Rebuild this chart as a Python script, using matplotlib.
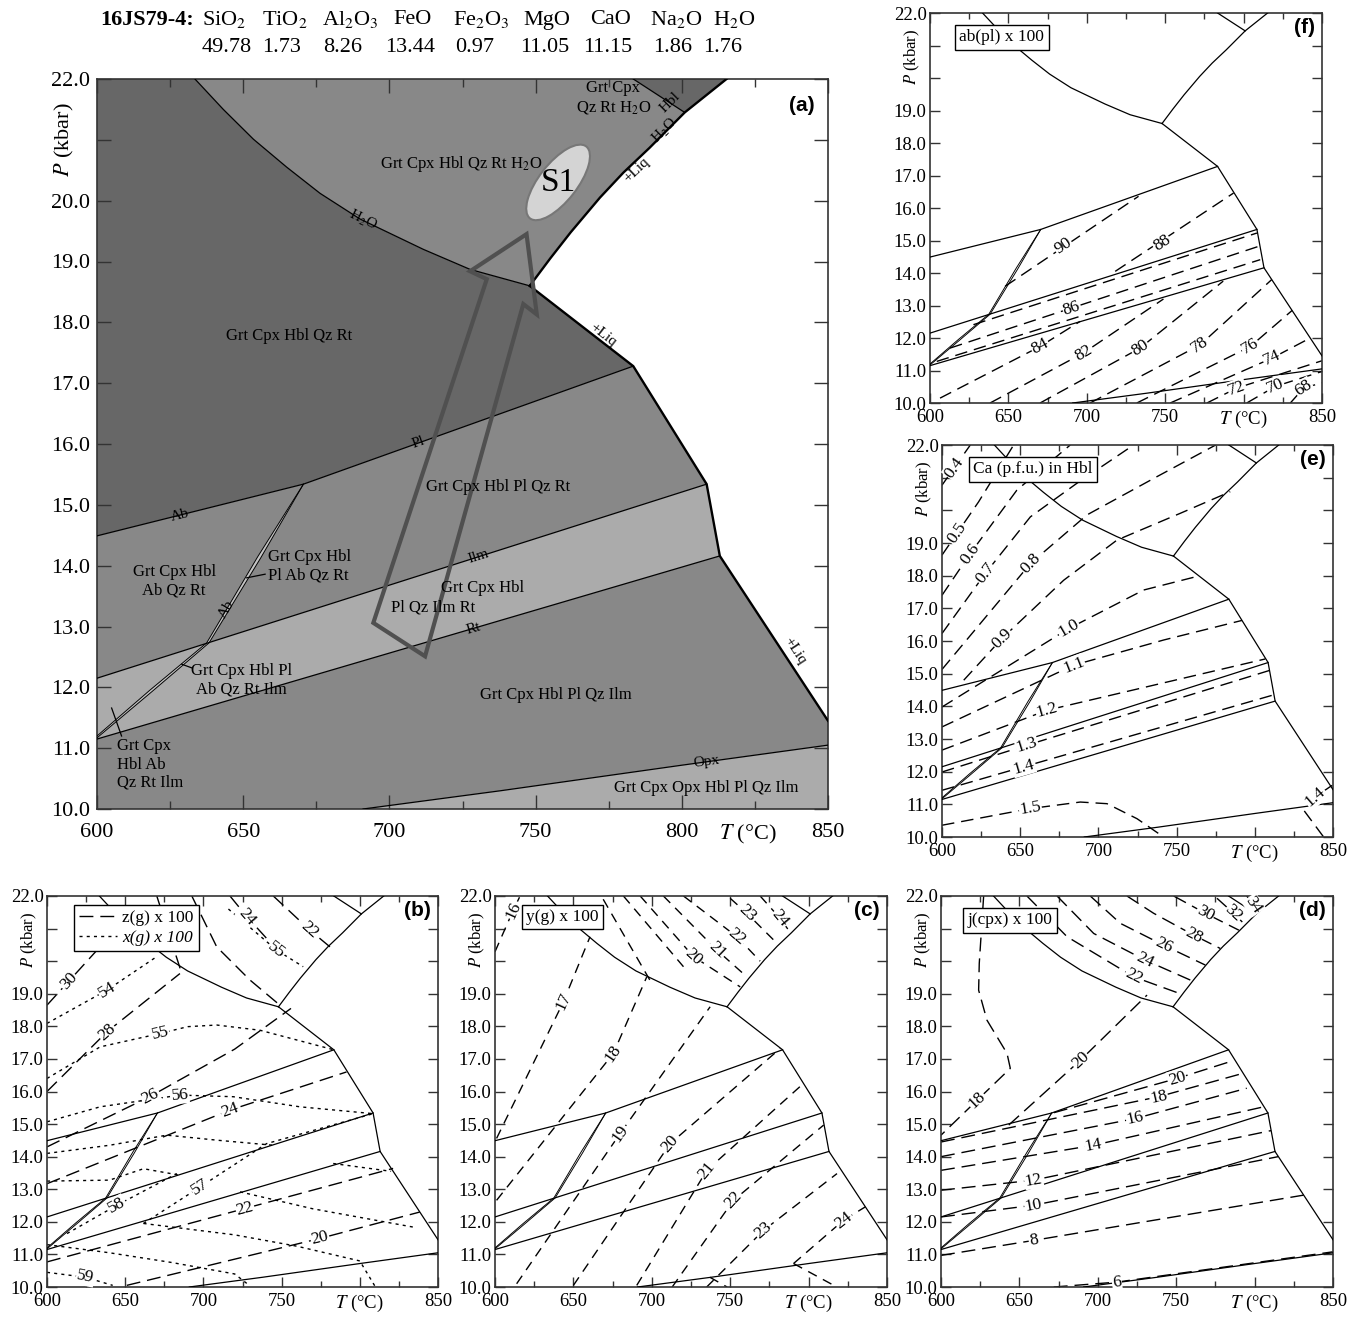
import numpy as np
import matplotlib
matplotlib.use("Agg")
import matplotlib.pyplot as plt
from matplotlib.patches import Polygon, Ellipse
from matplotlib.lines import Line2D

plt.rcParams['font.family'] = ['Liberation Serif', 'DejaVu Serif']
plt.rcParams['mathtext.fontset'] = 'stix'

W, H = 1357, 1327

# ------------------------------------------------------------
# bulk composition (header)
# ------------------------------------------------------------
SAMPLE = '16JS79-4:'
OXIDES = ['SiO$_2$', 'TiO$_2$', 'Al$_2$O$_3$', 'FeO', 'Fe$_2$O$_3$', 'MgO', 'CaO', 'Na$_2$O', 'H$_2$O']
WT = ['49.78', '1.73', '8.26', '13.44', '0.97', '11.05', '11.15', '1.86', '1.76']
OX_X = [202, 262, 322, 393, 453, 523, 590, 650, 713]
WT_X = [202, 262, 323, 385, 455, 520, 583, 653, 703]

# ------------------------------------------------------------
# phase boundaries (T degC, P kbar)
# ------------------------------------------------------------
H2O_CURVE = [(633.5, 22.0), (643.2, 21.5), (653.5, 21.01), (664.9, 20.55), (676.3, 20.12),
             (689.9, 19.7), (711.6, 19.2), (727.6, 18.87), (748.0, 18.6)]
LIQ_UP = [(748.0, 18.6), (755.0, 19.05), (762.0, 19.48), (772.0, 20.05), (780.0, 20.46),
          (789.0, 20.87), (801.0, 21.45), (815.3, 22.0)]
HBL_OUT = [(783.4, 22.0), (801.0, 21.45)]
SOLIDUS = [(748.0, 18.6), (783.4, 17.28), (808.5, 15.34), (813.0, 14.16), (850.0, 11.45)]
PL_LINE = [(600.0, 14.49), (670.6, 15.34), (783.4, 17.28)]
ILM_LINE = [(600.0, 12.15), (808.5, 15.34)]
RT_LINE = [(600.0, 11.15), (813.0, 14.16)]
OPX_LINE = [(691.0, 10.0), (738.0, 10.3), (800.0, 10.72), (850.0, 11.05)]
AB_A = [(600.0, 11.2), (618.0, 11.95), (637.5, 12.73), (655.0, 14.15), (670.6, 15.34)]
AB_B = [(600.0, 11.17), (618.8, 11.93), (638.3, 12.73), (655.9, 14.12), (670.6, 15.34)]

# P-T path and peak ellipse
PT_PATH = [(694.5, 13.06), (733.3, 18.71), (727.6, 18.84), (746.9, 19.45),
           (750.4, 18.13), (745.8, 18.30), (712.2, 12.51)]
S1_CENTER = (757.7, 20.3)

A_FIELDS = [
    ('Grt Cpx Hbl Qz Rt H$_2$O', 724.7, 20.6, 'center'),
    ('Grt Cpx Hbl Qz Rt', 665.7, 17.78, 'center'),
    ('Grt Cpx\nQz Rt H$_2$O', 776.6, 21.69, 'center'),
    ('Grt Cpx Hbl Pl Qz Rt', 737.2, 15.29, 'center'),
    ('Grt Cpx Hbl\nAb Qz Rt', 626.4, 13.75, 'center'),
    ('Grt Cpx Hbl\nPl Ab Qz Rt', 658.6, 13.99, 'left'),
    ('Grt Cpx Hbl', 731.8, 13.64, 'center'),
    ('Pl Qz Ilm Rt', 715.0, 13.31, 'center'),
    ('Grt Cpx Hbl Pl\nAb Qz Rt Ilm', 649.5, 12.12, 'center'),
    ('Grt Cpx\nHbl Ab\nQz Rt Ilm', 606.7, 10.73, 'left'),
    ('Grt Cpx Hbl Pl Qz Ilm', 757.0, 11.87, 'center'),
    ('Grt Cpx Opx Hbl Pl Qz Ilm', 808.2, 10.35, 'center'),
]
A_LEADERS = [[(651.2, 13.8), (657.5, 13.86)],
             [(629.0, 12.38), (632.4, 12.32)],
             [(605.0, 11.66), (608.4, 11.2)]]
A_TAGS = [
    ('H$_2$O', 691.0, 19.68, H2O_CURVE),
    ('+Liq', 784.6, 20.5, LIQ_UP),
    ('H$_2$O', 794.2, 21.15, LIQ_UP),
    ('Hbl', 796.0, 21.61, LIQ_UP),
    ('+Liq', 773.2, 17.8, SOLIDUS),
    ('+Liq', 838.7, 12.6, SOLIDUS),
    ('Pl', 709.9, 16.02, PL_LINE),
    ('Ab', 628.4, 14.83, PL_LINE),
    ('Ilm', 730.4, 14.15, ILM_LINE),
    ('Rt', 728.7, 12.97, RT_LINE),
    ('Ab', 644.3, 13.28, AB_A),
    ('Opx', 808.5, 10.78, OPX_LINE),
]

# ------------------------------------------------------------
# isopleths: (label, points, label position)
# ------------------------------------------------------------
F_ISO = [
    ('90', [(647.9, 13.59), (733.0, 16.36)], (685.1, 14.82)),
    ('88', [(718.1, 14.05), (793.6, 16.46)], (747.9, 14.92)),
    ('86', [(612.8, 11.69), (809.6, 14.82)], (690.4, 12.92)),
    ('', [(627.7, 12.41), (808.5, 15.23)], None),
    ('', [(604.3, 11.28), (810.6, 14.41)], None),
    ('84', [(606.4, 10.15), (670.2, 11.74), (695.7, 12.51)], (670.2, 11.74)),
    ('82', [(638.3, 10.0), (697.9, 11.54), (748.9, 13.2)], (697.9, 11.54)),
    ('80', [(670.2, 10.0), (734.0, 11.69), (787.0, 13.75)], (734.0, 11.69)),
    ('78', [(702.1, 10.0), (772.3, 11.79), (818.0, 13.8)], (772.3, 11.79)),
    ('76', [(731.9, 10.0), (804.3, 11.74), (831.0, 12.85)], (804.3, 11.74)),
    ('74', [(753.2, 10.0), (818.1, 11.38), (842.5, 12.0)], (818.1, 11.38)),
    ('72', [(776.6, 10.0), (795.7, 10.46), (850.0, 11.3)], (795.7, 10.46)),
    ('70', [(802.0, 10.0), (820.2, 10.51), (850.0, 10.97)], (820.2, 10.51)),
    ('68', [(829.8, 10.0), (838.3, 10.46), (850.0, 10.62)], (838.3, 10.46)),
]

E_ISO = [
    ('0.4', [(600.0, 20.77), (618.1, 22.0)], (608.0, 21.3)),
    ('0.5', [(600.0, 18.63), (623.4, 20.26), (645.8, 22.0)], (609.6, 19.3)),
    ('0.6', [(600.0, 17.40), (618.1, 18.68), (647.9, 20.62), (682.0, 22.0)], (618.1, 18.68)),
    ('0.7', [(600.0, 16.23), (627.7, 18.07), (656.5, 19.80), (686.3, 20.83), (722.5, 22.0)], (627.7, 18.07)),
    ('0.8', [(600.0, 15.13), (656.5, 18.37), (692.7, 19.86), (737.4, 21.03), (775.0, 22.0)], (656.5, 18.37)),
    ('0.9', [(613.9, 14.80), (638.4, 16.08), (677.8, 17.86), (711.9, 19.09), (752.4, 19.91), (784.3, 20.57)], (638.4, 16.08)),
    ('1.0', [(600.0, 13.98), (681.0, 16.38), (728.9, 17.56), (765.0, 18.0)], (681.0, 16.38)),
    ('1.1', [(600.0, 13.37), (684.2, 15.26), (741.7, 16.03), (791.8, 16.63)], (684.2, 15.26)),
    ('1.2', [(600.0, 12.66), (667.1, 13.88), (806.7, 15.45)], (667.1, 13.88)),
    ('1.3', [(600.0, 11.99), (654.3, 12.81), (809.5, 15.1)], (654.3, 12.81)),
    ('1.4', [(600.0, 11.43), (652.2, 12.15), (812.0, 14.35)], (652.2, 12.15)),
    ('1.5', [(600.0, 10.36), (656.5, 10.87), (688.4, 11.07), (705.5, 11.02), (724.7, 10.56), (741.7, 10.0)], (656.5, 10.87)),
    ('1.4', [(849.4, 11.58), (838.7, 11.23), (831.3, 10.82), (844.0, 10.0)], (838.7, 11.23)),
]

B_Z = [
    ('30', [(600.0, 18.65), (636.0, 20.55)], (613.8, 19.38)),
    ('28', [(600.0, 16.0), (638.3, 17.83), (685.0, 19.62)], (638.3, 17.83)),
    ('', [(670.2, 22.0), (685.1, 19.78)], None),
    ('26', [(600.0, 14.3), (666.0, 15.85), (720.0, 17.3), (756.0, 18.55)], (666.0, 15.85)),
    ('', [(692.6, 22.0), (708.5, 20.44), (729.8, 19.42), (748.9, 18.65)], None),
    ('24', [(600.0, 13.17), (717.0, 15.43), (791.5, 16.6)], (717.0, 15.43)),
    ('24', [(717.0, 22.0), (727.7, 21.37), (740.4, 20.7)], (727.7, 21.37)),
    ('22', [(744.7, 22.0), (768.1, 20.95), (780.9, 20.44)], (768.1, 20.95)),
    ('22', [(600.0, 10.77), (726.6, 12.41), (821.3, 13.64)], (726.6, 12.41)),
    ('20', [(651.0, 10.05), (774.5, 11.49), (838.3, 12.3)], (774.5, 11.49)),
]
B_X = [
    ('54', [(600.0, 18.09), (638.3, 19.11), (670.2, 20.14)], (638.3, 19.11)),
    ('55', [(600.0, 16.4), (634.0, 17.37), (672.3, 17.78), (690.0, 17.99), (708.5, 18.04),
            (736.2, 17.88), (783.4, 17.28)], (672.3, 17.78)),
    ('55', [(716.0, 21.6), (746.8, 20.34), (763.8, 19.83)], (746.8, 20.34)),
    ('56', [(600.0, 15.07), (634.0, 15.53), (685.1, 15.89), (719.1, 15.84), (761.7, 15.53),
            (808.5, 15.32)], (685.1, 15.89)),
    ('', [(600.0, 14.1), (640.0, 14.35), (676.6, 14.66), (710.0, 14.5), (744.7, 14.35)], None),
    ('', [(600.0, 13.25), (640.0, 13.28), (661.7, 13.63), (685.1, 13.43)], None),
    ('57', [(661.7, 11.95), (697.9, 13.07), (740.4, 14.4), (808.5, 15.32)], (697.9, 13.07)),
    ('58', [(612.8, 11.64), (644.7, 12.51), (683.0, 13.48)], (644.7, 12.51)),
    ('', [(600.0, 11.3), (640.0, 11.05), (680.0, 10.75), (720.0, 10.4), (728.0, 10.1)], None),
    ('', [(661.7, 11.95), (720.0, 11.6), (760.0, 11.25), (800.0, 10.8), (810.0, 10.0)], None),
    ('', [(723.4, 12.92), (770.0, 12.4), (834.0, 11.84)], None),
    ('', [(783.0, 13.79), (820.0, 13.55)], None),
    ('59', [(600.0, 10.45), (624.5, 10.3), (642.0, 10.05)], (624.5, 10.3)),
]

C_ISO = [
    ('16', [(600.0, 20.29), (611.7, 21.57), (616.0, 22.0)], (611.7, 21.57)),
    ('17', [(601.0, 14.56), (643.6, 18.75), (660.6, 20.75)], (643.6, 18.75)),
    ('18', [(601.0, 12.66), (675.5, 17.17), (696.8, 19.52)], (675.5, 17.17)),
    ('19', [(613.8, 10.1), (679.8, 14.71), (737.2, 18.6)], (679.8, 14.71)),
    ('20', [(650.0, 10.05), (711.7, 14.4), (781.9, 17.32)], (711.7, 14.4)),
    ('21', [(690.4, 10.05), (735.1, 13.58), (796.8, 16.25)], (735.1, 13.58)),
    ('22', [(713.0, 10.0), (752.1, 12.66), (809.6, 14.97)], (752.1, 12.66)),
    ('23', [(735.0, 10.0), (771.3, 11.74), (818.1, 13.48)], (771.3, 11.74)),
    ('24', [(790.4, 10.72), (822.3, 12.05), (836.2, 12.46)], (822.3, 12.05)),
    ('', [(790.4, 10.72), (818.0, 10.0)], None),
    ('', [(737.0, 10.3), (748.0, 10.0)], None),
    ('20', [(692.6, 22.0), (726.6, 20.14), (756.4, 19.21)], (726.6, 20.14)),
    ('21', [(707.4, 22.0), (741.5, 20.34), (760.6, 19.52)], (741.5, 20.34)),
    ('22', [(720.2, 22.0), (754.3, 20.75), (769.1, 20.0)], (754.3, 20.75)),
    ('23', [(750.0, 21.93), (760.6, 21.47), (779.8, 20.55)], (760.6, 21.47)),
    ('24', [(769.1, 22.0), (781.9, 21.31), (788.0, 20.9)], (781.9, 21.31)),
    ('', [(669.0, 21.9), (699.0, 19.4)], None),
    ('', [(681.9, 22.0), (720.2, 19.83)], None),
]

D_ISO = [
    ('18', [(627.2, 22.0), (624.4, 19.93), (624.0, 19.11), (629.3, 18.19), (642.1, 17.17),
            (644.2, 16.71), (623.0, 15.73), (600.0, 14.66)], (623.0, 15.73)),
    ('20', [(643.2, 14.97), (688.9, 16.96), (731.4, 18.96)], (688.9, 16.96)),
    ('20', [(672.0, 15.35), (750.5, 16.4), (786.6, 16.95)], (750.5, 16.4)),
    ('18', [(600.0, 14.45), (738.8, 15.84), (792.0, 16.55)], (738.8, 15.84)),
    ('16', [(600.0, 14.0), (723.9, 15.17), (795.0, 16.1)], (723.9, 15.17)),
    ('14', [(600.0, 13.58), (697.4, 14.35), (805.8, 15.53)], (697.4, 14.35)),
    ('12', [(600.0, 12.97), (659.1, 13.28), (810.5, 14.8)], (659.1, 13.28)),
    ('10', [(600.0, 12.15), (659.1, 12.51), (815.0, 14.0)], (659.1, 12.51)),
    ('8', [(600.0, 10.97), (659.1, 11.43), (831.3, 12.82)], (659.1, 11.43)),
    ('6', [(671.9, 10.0), (712.2, 10.15), (850.0, 11.08)], (712.2, 10.15)),
    ('22', [(654.8, 22.0), (680.4, 20.75), (722.9, 19.52), (752.6, 19.0)], (722.9, 19.52)),
    ('24', [(674.0, 22.0), (697.4, 20.85), (730.3, 20.03), (759.0, 19.42)], (730.3, 20.03)),
    ('26', [(695.2, 22.0), (714.4, 21.16), (742.0, 20.49), (768.6, 19.88)], (742.0, 20.49)),
    ('28', [(718.6, 22.0), (735.6, 21.47), (761.1, 20.8), (778.1, 20.39)], (761.1, 20.8)),
    ('30', [(748.4, 22.0), (768.6, 21.47), (790.0, 20.95)], (768.6, 21.47)),
    ('32', [(776.0, 21.93), (786.6, 21.47), (793.0, 21.16)], (786.6, 21.47)),
    ('34', [(795.0, 22.0), (799.4, 21.72), (802.0, 21.5)], (799.4, 21.72)),
]

T_MAJOR = [600, 650, 700, 750, 800, 850]
T_MINOR = [625, 675, 725, 775, 825]
P_TICKS = [10, 11, 12, 13, 14, 15, 16, 17, 18, 19, 20, 21, 22]

DARK, MED, LIGHT = '#676767', '#888888', '#ababab'

# ------------------------------------------------------------
fig = plt.figure(figsize=(W / 100, H / 100), dpi=100)


def add_ax(x0, y0, x1, y1):
    return fig.add_axes([x0 / W, 1 - y1 / H, (x1 - x0) / W, (y1 - y0) / H])


def style_axes(ax, big=False):
    ax.set_xlim(600, 850)
    ax.set_ylim(10, 22)
    ax.set_xticks(T_MAJOR)
    ax.set_xticks(T_MINOR, minor=True)
    ax.set_yticks(P_TICKS)
    if big:
        ax.set_xticklabels([str(t) for t in T_MAJOR])
        ax.set_yticklabels(['' if p == 21 else f'{p:.1f}' for p in P_TICKS])
        fs, xpad, ypad, lmaj, lmin = 16, 10, 5, 10, 6
    else:
        ax.set_xticklabels(['$T$ (°C)' if t == 800 else str(t) for t in T_MAJOR])
        ax.set_yticklabels(['' if p in (20, 21) else f'{p:.1f}' for p in P_TICKS])
        fs, xpad, ypad, lmaj, lmin = 13.5, 4.5, 2.5, 7, 4
    ax.tick_params(which='both', direction='in', top=True, right=True,
                   color='#333333', labelcolor='black', labelsize=fs)
    ax.tick_params(which='major', length=lmaj, width=1.0)
    ax.tick_params(which='minor', length=lmin, width=1.0)
    ax.tick_params(axis='x', pad=xpad)
    ax.tick_params(axis='y', pad=ypad)
    for s in ax.spines.values():
        s.set_color('#333333')
        s.set_linewidth(1.2)
    if big:
        ax.text(-0.044, 21.0, '$P$ (kbar)', transform=ax.get_yaxis_transform(),
                rotation=90, ha='center', va='center', fontsize=16)
    else:
        ax.text(-0.045, 20.65, '$P$ (kbar)', transform=ax.get_yaxis_transform(),
                rotation=90, ha='center', va='center', fontsize=12)


def disp_angle(ax, pts, T, P):
    xy = ax.transData.transform(np.asarray(pts, float))
    q = ax.transData.transform((T, P))
    d = np.hypot(*(xy - q).T)
    i = int(np.argmin(d))
    if d[i] < 1.5:
        j0, j1 = max(i - 1, 0), min(i + 1, len(xy) - 1)
    else:
        best = None
        for k in range(len(xy) - 1):
            a, b = xy[k], xy[k + 1]
            v = b - a
            u = np.clip(np.dot(q - a, v) / np.dot(v, v), 0, 1)
            dist = np.hypot(*(a + u * v - q))
            if best is None or dist < best[0]:
                best = (dist, k)
        j0, j1 = best[1], best[1] + 1
    dx, dy = xy[j1] - xy[j0]
    ang = np.degrees(np.arctan2(dy, dx))
    if ang > 90:
        ang -= 180
    elif ang < -90:
        ang += 180
    return ang


def draw_base(ax, lw=0.9, lw_melt=0.9):
    for line in (H2O_CURVE, HBL_OUT, PL_LINE, ILM_LINE, RT_LINE, OPX_LINE):
        T, P = zip(*line)
        ax.plot(T, P, color='k', lw=lw, zorder=3, solid_joinstyle='round')
    for line in (LIQ_UP, SOLIDUS):
        T, P = zip(*line)
        ax.plot(T, P, color='k', lw=lw_melt, zorder=3, solid_joinstyle='round')
    for line in (AB_A, AB_B):
        T, P = zip(*line)
        ax.plot(T, P, color='k', lw=lw * 0.75, zorder=3)


def draw_iso(ax, lines, ls, fs=12.5):
    for lab, pts, lpos in lines:
        T, P = zip(*pts)
        ax.plot(T, P, color='k', lw=1.0, ls=ls, zorder=2)
        if lab:
            ang = disp_angle(ax, pts, *lpos)
            ax.text(lpos[0], lpos[1], lab, rotation=ang, rotation_mode='anchor',
                    ha='center', va='center', fontsize=fs, zorder=5,
                    bbox=dict(fc='white', ec='none', pad=0.5))


def panel_letter(ax, s):
    ax.text(0.982, 0.964, s, transform=ax.transAxes, ha='right', va='center',
            fontsize=15, fontweight='bold', family='Liberation Sans', zorder=7)


def tag_box(ax, s, x, y):
    ax.text(x, y, s, transform=ax.transAxes, ha='left', va='top', fontsize=12.5, zorder=7,
            bbox=dict(boxstyle='square,pad=0.25', fc='white', ec='black', lw=1.0))


# ------------------------------------------------------------
# header
# ------------------------------------------------------------
fig.text(100 / W, 1 - 20 / H, SAMPLE, fontsize=16, fontweight='bold', ha='left', va='center')
for name, x in zip(OXIDES, OX_X):
    fig.text(x / W, 1 - 20 / H, name, fontsize=16, ha='left', va='center')
for val, x in zip(WT, WT_X):
    fig.text(x / W, 1 - 47 / H, val, fontsize=16, ha='left', va='center')

# ------------------------------------------------------------
# (a) pseudosection
# ------------------------------------------------------------
ax_a = add_ax(97, 79, 828, 809)
style_axes(ax_a, big=True)

n_up = LIQ_UP.index(HBL_OUT[1])
regions = [
    ([(600, 22)] + H2O_CURVE + PL_LINE[::-1], DARK),
    (H2O_CURVE + LIQ_UP[1:n_up + 1] + [HBL_OUT[0]], MED),
    ([HBL_OUT[0], LIQ_UP[-1], HBL_OUT[1]], DARK),
    (PL_LINE + ILM_LINE[::-1], MED),
    (ILM_LINE + RT_LINE[::-1], LIGHT),
    (RT_LINE + [SOLIDUS[-1]] + OPX_LINE[::-1] + [(600, 10)], MED),
    (OPX_LINE + [(850, 10)], LIGHT),
]
for poly, col in regions:
    ax_a.add_patch(Polygon(poly, closed=True, fc=col, ec='none', zorder=1))
ax_a.add_patch(Polygon(AB_A + AB_B[::-1], closed=True, fc='#c4c4c4', ec='none', zorder=1))

draw_base(ax_a, lw=0.9, lw_melt=1.7)
for seg in A_LEADERS:
    T, P = zip(*seg)
    ax_a.plot(T, P, color='k', lw=0.9, zorder=3)

ax_a.add_patch(Polygon(PT_PATH, closed=True, fill=False, ec='#505050', lw=3.0,
                       joinstyle='miter', zorder=4))
cx = (S1_CENTER[0] - 600) / 250
cy = (S1_CENTER[1] - 10) / 12
ax_a.add_patch(Ellipse((cx, cy), 0.125, 0.052, angle=52, transform=ax_a.transAxes,
                       fc='#d4d4d4', ec='#777777', lw=1.5, zorder=4))
ax_a.text(S1_CENTER[0], S1_CENTER[1], 'S1', fontsize=24, ha='center', va='center', zorder=6)

for txt, T, P, ha in A_FIELDS:
    ax_a.text(T, P, txt, fontsize=12, ha=ha, va='center', zorder=6, linespacing=1.2,
              multialignment=ha)
for txt, T, P, line in A_TAGS:
    ang = disp_angle(ax_a, line, T, P)
    ax_a.text(T, P, txt, fontsize=11, rotation=ang, rotation_mode='anchor',
              ha='center', va='center', zorder=6)

ax_a.text(822.5, -14 / 730, '$T$ (°C)', transform=ax_a.get_xaxis_transform(),
          ha='center', va='top', fontsize=16)
panel_letter(ax_a, '(a)')

# ------------------------------------------------------------
# (f) ab(pl)
# ------------------------------------------------------------
ax_f = add_ax(930, 13, 1322, 403)
style_axes(ax_f)
draw_base(ax_f)
draw_iso(ax_f, F_ISO, (0, (9, 5)))
tag_box(ax_f, 'ab(pl) x 100', 0.075, 0.958)
panel_letter(ax_f, '(f)')

# ------------------------------------------------------------
# (e) Ca in Hbl
# ------------------------------------------------------------
ax_e = add_ax(942, 445, 1333, 837)
style_axes(ax_e)
draw_base(ax_e)
draw_iso(ax_e, E_ISO, (0, (9, 5)))
tag_box(ax_e, 'Ca (p.f.u.) in Hbl', 0.079, 0.958)
panel_letter(ax_e, '(e)')

# ------------------------------------------------------------
# (b) z(g), x(g)
# ------------------------------------------------------------
ax_b = add_ax(47, 896, 438, 1287)
style_axes(ax_b)
draw_base(ax_b)
draw_iso(ax_b, B_Z, (0, (10, 5)))
draw_iso(ax_b, B_X, (0, (2.2, 3)))
handles = [Line2D([], [], color='k', lw=1.0, ls=(0, (10, 5))),
           Line2D([], [], color='k', lw=1.0, ls=(0, (2.2, 3)))]
leg = ax_b.legend(handles, ['z(g) x 100', 'x(g) x 100'], loc='upper left',
                  bbox_to_anchor=(0.068, 0.977), borderaxespad=0, fancybox=False,
                  edgecolor='black', framealpha=1, fontsize=12.5, handlelength=2.2,
                  borderpad=0.3, labelspacing=0.2, handletextpad=0.3)
leg.get_frame().set_linewidth(1.0)
leg.get_texts()[1].set_style('italic')
leg.set_zorder(8)
panel_letter(ax_b, '(b)')

# ------------------------------------------------------------
# (c) y(g)
# ------------------------------------------------------------
ax_c = add_ax(495, 896, 887, 1287)
style_axes(ax_c)
draw_base(ax_c)
draw_iso(ax_c, C_ISO, (0, (7, 5)))
tag_box(ax_c, 'y(g) x 100', 0.08, 0.967)
panel_letter(ax_c, '(c)')

# ------------------------------------------------------------
# (d) j(cpx)
# ------------------------------------------------------------
ax_d = add_ax(941, 896, 1333, 1287)
style_axes(ax_d)
draw_base(ax_d)
draw_iso(ax_d, D_ISO, (0, (10, 5)))
tag_box(ax_d, 'j(cpx) x 100', 0.068, 0.958)
panel_letter(ax_d, '(d)')

fig.savefig('out.png', dpi=100)
